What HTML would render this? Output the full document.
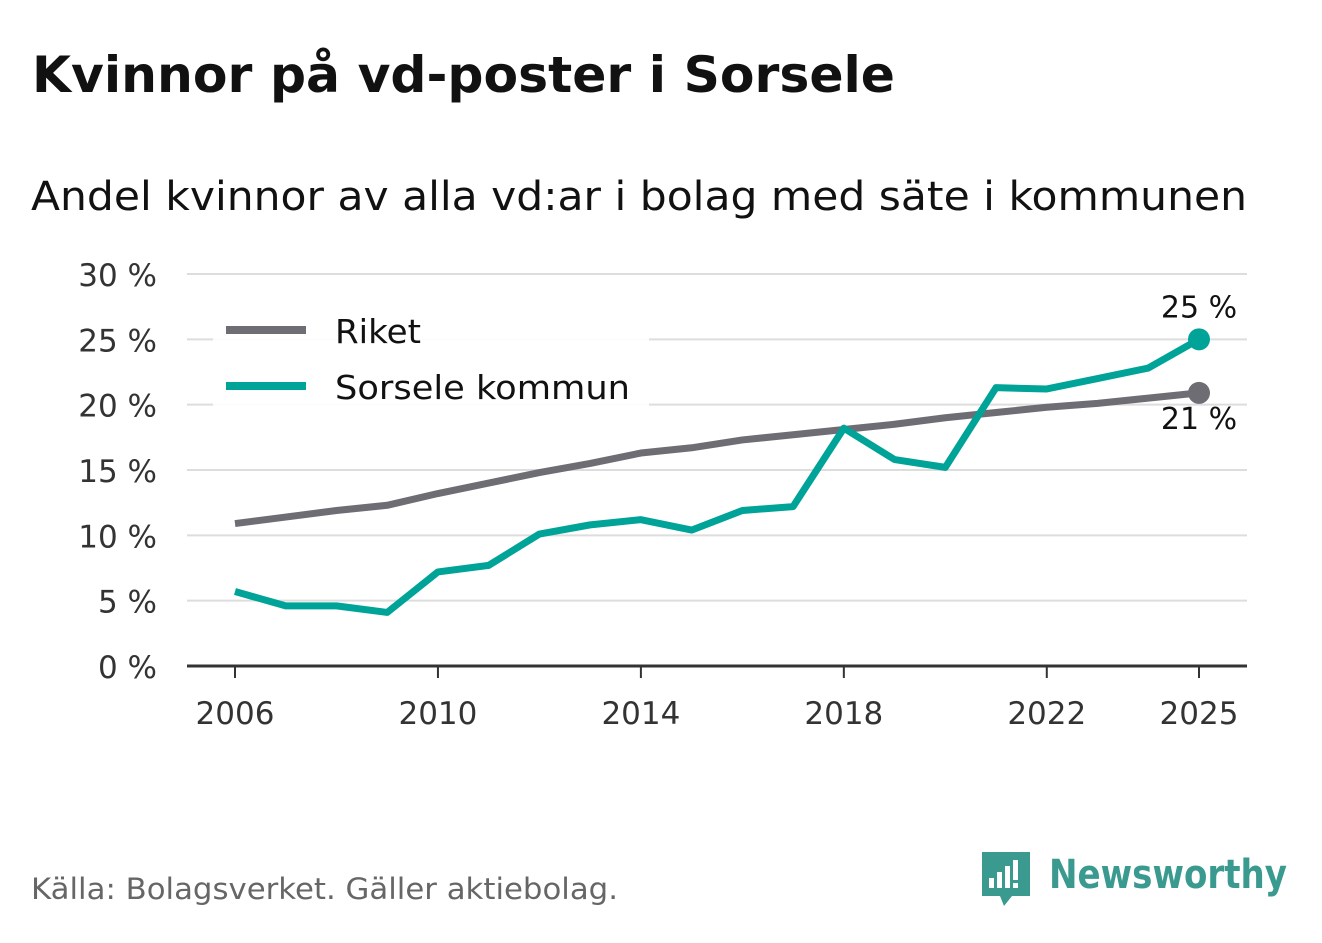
<!DOCTYPE html>
<html><head><meta charset="utf-8">
<style>
body{margin:0;background:#fff;width:1322px;height:939px;overflow:hidden;font-family:"DejaVu Sans","Liberation Sans",sans-serif;}
svg text{font-family:"DejaVu Sans","Liberation Sans",sans-serif;}
</style></head>
<body>
<svg id="chart" width="1322" height="939" xmlns="http://www.w3.org/2000/svg">
<text x="32" y="92" font-size="50" font-weight="bold" fill="#111" textLength="863" lengthAdjust="spacingAndGlyphs">Kvinnor på vd-poster i Sorsele</text>
<text x="31" y="210" font-size="40" fill="#111" textLength="1216" lengthAdjust="spacingAndGlyphs">Andel kvinnor av alla vd:ar i bolag med säte i kommunen</text>
<g id="grid"></g>
<g id="yticks"></g>
<g id="xticks"></g>
<g id="lines"></g>
<g>
<rect x="213" y="318" width="436" height="88" fill="#fff" opacity="0.9"/>
<line x1="226" y1="330" x2="306" y2="330" stroke="#6e6d73" stroke-width="8"/>
<text x="335" y="343" font-size="33" fill="#111" textLength="86" lengthAdjust="spacingAndGlyphs">Riket</text>
<line x1="226" y1="386" x2="306" y2="386" stroke="#00a398" stroke-width="8"/>
<text x="335" y="399" font-size="33" fill="#111" textLength="295" lengthAdjust="spacingAndGlyphs">Sorsele kommun</text>
</g>
<text x="31" y="899" font-size="29" fill="#666" textLength="587" lengthAdjust="spacingAndGlyphs">Källa: Bolagsverket. Gäller aktiebolag.</text>
<g>
<path d="M982 852 h48 v44 h-18 l-8 10 l-4 -10 h-18 z" fill="#3a9a8f"/>
<rect x="989" y="878" width="5" height="10" fill="#fff"/><rect x="997" y="872" width="5" height="16" fill="#fff"/><rect x="1005" y="866" width="5" height="22" fill="#fff"/><rect x="1013" y="860" width="5" height="20" fill="#fff"/><rect x="1013" y="883" width="5" height="5" fill="#fff"/>
<text x="1049" y="888" font-size="40" font-weight="bold" fill="#3a9a8f" textLength="238" lengthAdjust="spacingAndGlyphs">Newsworthy</text>
</g>
</svg>
<script>
const years=[2006,2007,2008,2009,2010,2011,2012,2013,2014,2015,2016,2017,2018,2019,2020,2021,2022,2023,2024,2025];
const riket=[10.9,11.4,11.9,12.3,13.2,14.0,14.8,15.5,16.3,16.7,17.3,17.7,18.1,18.5,19.0,19.4,19.8,20.1,20.5,20.9];
const sorsele=[5.7,4.6,4.6,4.1,7.2,7.7,10.1,10.8,11.2,10.4,11.9,12.2,18.2,15.8,15.2,21.3,21.2,22.0,22.8,25.0];
const yTicks=[0,5,10,15,20,25,30];
const xTicks=[2006,2010,2014,2018,2022,2025];
const NS="http://www.w3.org/2000/svg";
const xs=y=>235+(y-2006)*(1199-235)/19;
const ys=v=>666-v*(666-274)/30;
function mk(t,a,p){const e=document.createElementNS(NS,t);for(const k in a)e.setAttribute(k,a[k]);p.appendChild(e);return e;}
const grid=document.getElementById('grid'),yt=document.getElementById('yticks'),xt=document.getElementById('xticks'),ln=document.getElementById('lines');
yTicks.forEach(v=>{
 const l=mk('line',{x1:187,x2:1247,y1:ys(v),y2:ys(v),stroke:v===0?'#333':'#ddd','stroke-width':v===0?3:2},grid);
 
 
 const t=mk('text',{x:157,y:ys(v)+12,'text-anchor':'end','font-size':31,fill:'#333'},yt);
 t.textContent=v+' %';
 
 
});
xTicks.forEach(y=>{
 mk('line',{x1:xs(y),x2:xs(y),y1:666,y2:678,stroke:'#333','stroke-width':2},xt);
 const t=mk('text',{x:xs(y),y:724,'text-anchor':'middle','font-size':31,fill:'#333'},xt);
 t.textContent=y;
 
 
});
function series(data,color,name,labelDy){
 const p=mk('polyline',{points:data.map((v,i)=>xs(years[i])+','+ys(v)).join(' '),fill:'none',stroke:color,'stroke-width':7,'stroke-linejoin':'round'},ln);
 
 
 const last=data.length-1;
 const c=mk('circle',{cx:xs(years[last]),cy:ys(data[last]),r:11,fill:color},ln);
 
 
 const t=mk('text',{x:xs(years[last]),y:ys(data[last])+labelDy,'text-anchor':'middle','font-size':30,fill:'#111'},ln);
 t.textContent=Math.round(data[last])+' %';
 
 
}
series(riket,'#6e6d73','riket',36);
series(sorsele,'#00a398','sorsele',-22);
</script>
</body></html>
